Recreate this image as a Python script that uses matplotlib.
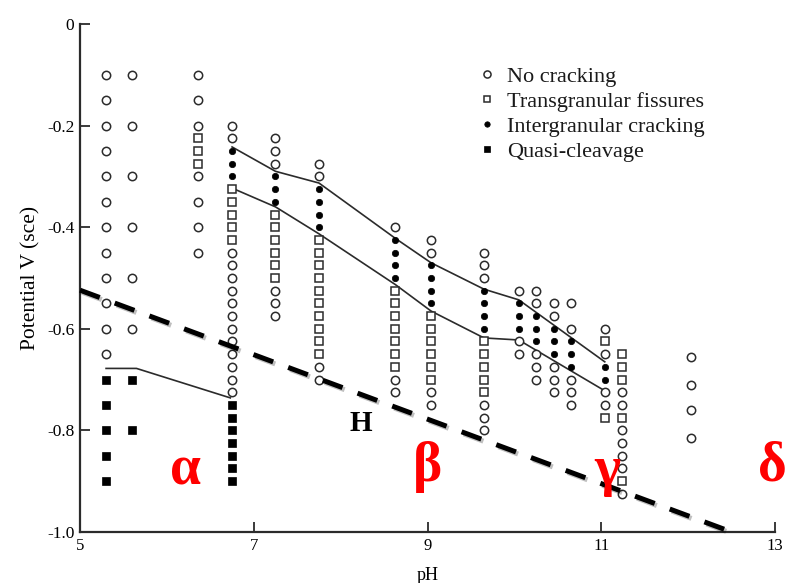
import matplotlib
matplotlib.use("Agg")
import matplotlib.pyplot as plt
import matplotlib.patheffects as pe

# --- data (pH, list of potentials V sce) ---
no_cracking = [
    (5.30, [-0.10, -0.15, -0.20, -0.25, -0.30, -0.35, -0.40, -0.45, -0.50, -0.55, -0.60, -0.65]),
    (5.60, [-0.10, -0.20, -0.30, -0.40, -0.50, -0.60]),
    (6.36, [-0.10, -0.15, -0.20, -0.30, -0.35, -0.40, -0.45]),
    (6.75, [-0.200, -0.225, -0.450, -0.475, -0.500, -0.525, -0.550, -0.575,
            -0.600, -0.625, -0.650, -0.675, -0.700, -0.725]),
    (7.25, [-0.225, -0.250, -0.275, -0.525, -0.550, -0.575]),
    (7.75, [-0.275, -0.300, -0.675, -0.700]),
    (8.63, [-0.400, -0.700, -0.725]),
    (9.04, [-0.425, -0.450, -0.725, -0.750]),
    (9.65, [-0.450, -0.475, -0.500, -0.750, -0.775, -0.800]),
    (10.05, [-0.525, -0.625, -0.650]),
    (10.25, [-0.525, -0.550, -0.650, -0.675, -0.700]),
    (10.45, [-0.550, -0.575, -0.675, -0.700, -0.725]),
    (10.65, [-0.550, -0.600, -0.700, -0.725, -0.750]),
    (11.04, [-0.600, -0.650, -0.725, -0.750]),
    (11.24, [-0.725, -0.750, -0.800, -0.825, -0.850, -0.875, -0.925]),
    (12.03, [-0.655, -0.710, -0.760, -0.815]),
]
transgranular = [
    (6.36, [-0.225, -0.250, -0.275]),
    (6.75, [-0.325, -0.350, -0.375, -0.400, -0.425]),
    (7.25, [-0.375, -0.400, -0.425, -0.450, -0.475, -0.500]),
    (7.75, [-0.425, -0.450, -0.475, -0.500, -0.525, -0.550, -0.575, -0.600, -0.625, -0.650]),
    (8.63, [-0.525, -0.550, -0.575, -0.600, -0.625, -0.650, -0.675]),
    (9.04, [-0.575, -0.600, -0.625, -0.650, -0.675, -0.700]),
    (9.65, [-0.625, -0.650, -0.675, -0.700, -0.725]),
    (11.04, [-0.625, -0.775]),
    (11.24, [-0.650, -0.675, -0.700, -0.775, -0.900]),
]
intergranular = [
    (6.75, [-0.250, -0.275, -0.300]),
    (7.25, [-0.300, -0.325, -0.350]),
    (7.75, [-0.325, -0.350, -0.375, -0.400]),
    (8.63, [-0.425, -0.450, -0.475, -0.500]),
    (9.04, [-0.475, -0.500, -0.525, -0.550]),
    (9.65, [-0.525, -0.550, -0.575, -0.600]),
    (10.05, [-0.550, -0.575, -0.600]),
    (10.25, [-0.575, -0.600, -0.625]),
    (10.45, [-0.600, -0.625, -0.650]),
    (10.65, [-0.625, -0.650, -0.675]),
    (11.04, [-0.675, -0.700]),
]
quasi_cleavage = [
    (5.30, [-0.70, -0.75, -0.80, -0.85, -0.90]),
    (5.60, [-0.70, -0.80]),
    (6.75, [-0.750, -0.775, -0.800, -0.825, -0.850, -0.875, -0.900]),
]

# boundary lines
upper_ph = [6.75, 7.25, 7.75, 8.63, 9.04, 9.65, 10.05, 11.04]
upper_v = [-0.242, -0.290, -0.313, -0.422, -0.470, -0.522, -0.543, -0.665]
lower_ph = [6.75, 7.25, 7.75, 8.63, 9.04, 9.65, 10.05, 11.04]
lower_v = [-0.323, -0.360, -0.413, -0.513, -0.565, -0.618, -0.622, -0.722]
qc_ph = [5.30, 5.65, 6.73]
qc_v = [-0.678, -0.678, -0.736]
dash_ph = [5.0, 12.5]
dash_v = [-0.524, -1.0]

region_labels = ['α', 'β', 'γ', 'δ']
region_ph = [6.21, 9.0, 11.07, 12.97]
region_v = [-0.878, -0.872, -0.88, -0.872]

legend_labels = ['No cracking', 'Transgranular fissures',
                 'Intergranular cracking', 'Quasi-cleavage']

SERIF = ['Liberation Serif', 'DejaVu Serif']
INK = '#2b2b2b'

fig = plt.figure(figsize=(8.01, 5.83), dpi=100)
ax = fig.add_axes([0.0999, 0.0875, 0.8677, 0.8713])


def flatten(groups):
    xs, ys = [], []
    for ph, vals in groups:
        xs += [ph] * len(vals)
        ys += vals
    return xs, ys


styles = [
    (no_cracking, dict(marker='o', ms=6.0, mfc='white', mec=INK, mew=1.1)),
    (transgranular, dict(marker='s', ms=5.2, mfc='white', mec=INK, mew=1.1)),
    (intergranular, dict(marker='o', ms=4.6, mfc='black', mec='black', mew=0.5)),
    (quasi_cleavage, dict(marker='s', ms=5.6, mfc='black', mec='black', mew=0.5)),
]
handles = []
for groups, st in styles:
    xs, ys = flatten(groups)
    h, = ax.plot(xs, ys, ls='none', zorder=3, **st)
    handles.append(h)

for xs, ys in [(upper_ph, upper_v), (lower_ph, lower_v), (qc_ph, qc_v)]:
    ax.plot(xs, ys, color=INK, lw=1.2, zorder=2)

ax.plot(dash_ph, dash_v, color='black', lw=3.6, dashes=(4.2, 3.2),
        solid_capstyle='butt', dash_capstyle='butt', clip_on=False, zorder=4,
        path_effects=[pe.SimpleLineShadow(offset=(1.5, -1.5), alpha=0.25),
                      pe.Normal()])

for lab, x, y in zip(region_labels, region_ph, region_v):
    ax.text(x, y, lab, color='red', fontsize=40, fontweight='bold',
            family=SERIF, ha='center', va='center', zorder=5)
ax.text(8.23, -0.787, 'H', color='black', fontsize=21, fontweight='bold',
        family=SERIF, ha='center', va='center', zorder=5)

leg = ax.legend(handles, legend_labels, loc='upper left',
                bbox_to_anchor=(0.574, 0.916), frameon=False,
                borderpad=0, borderaxespad=0,
                prop={'family': SERIF, 'size': 16}, handlelength=0.75,
                handletextpad=0.5, labelspacing=0.2, markerscale=0.85)
for t in leg.get_texts():
    t.set_color('#1a1a1a')

ax.set_xlim(5, 13)
ax.set_ylim(-1.0, 0)
ax.set_xticks([5, 7, 9, 11, 13])
ax.set_yticks([0, -0.2, -0.4, -0.6, -0.8, -1.0])
ax.set_yticklabels(['0', '-0.2', '-0.4', '-0.6', '-0.8', '-1.0'])
for lbl in ax.get_xticklabels():
    lbl.set_family(SERIF)
    lbl.set_fontsize(12)
for lbl in ax.get_yticklabels():
    lbl.set_family(SERIF)
    lbl.set_fontsize(12.5)
ax.tick_params(direction='in', length=7, width=1.3, color=INK, pad=4)

for s in ['top', 'right']:
    ax.spines[s].set_visible(False)
for s in ['left', 'bottom']:
    ax.spines[s].set_linewidth(1.6)
    ax.spines[s].set_color(INK)

ax.set_xlabel('pH', family=SERIF, fontsize=13, labelpad=10)
ax.set_ylabel('Potential V (sce)', family=SERIF, fontsize=15.5, labelpad=5)

fig.savefig('out.png', dpi=100)
